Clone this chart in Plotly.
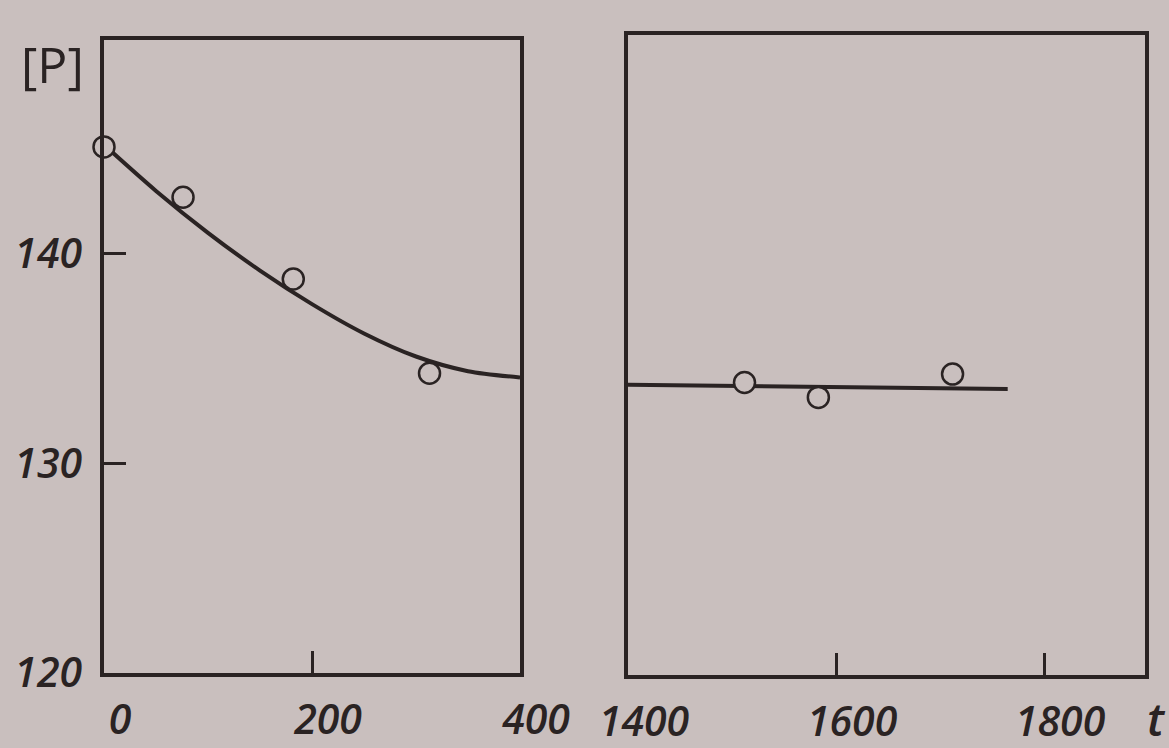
import plotly.graph_objects as go

# Measured points and fitted curve, early stage (t = 0..400)
early_t = [0, 76, 182, 313]
early_p = [145.1, 142.7, 138.8, 134.3]
early_fit_t = [0, 50, 100, 150, 200, 250, 300, 350, 400]
early_fit_p = [145.2, 143.0, 141.0, 139.2, 137.6, 136.2, 135.1, 134.4, 134.1]

# Measured points and fitted line, late stage (t = 1400..1900)
late_t = [1512, 1583, 1712]
late_p = [133.8, 133.1, 134.2]
late_fit_t = [1400, 1765]
late_fit_p = [133.7, 133.5]

# Axis ticks
y_ticks = [120, 130, 140]
x1_ticks = [0, 200, 400]
x2_ticks = [1400, 1600, 1800]

PAPER = "#c9bfbe"
INK = "#2a2323"
FONT = "Open Sans, sans-serif"

fig = go.Figure()

fig.add_trace(go.Scatter(x=early_fit_t, y=early_fit_p, mode="lines",
                         line=dict(color=INK, width=4, shape="spline", smoothing=0.8),
                         xaxis="x", yaxis="y", showlegend=False))
fig.add_trace(go.Scatter(x=early_t, y=early_p, mode="markers",
                         marker=dict(symbol="circle", size=21, color=PAPER,
                                     line=dict(color=INK, width=2.5)),
                         xaxis="x", yaxis="y", showlegend=False, cliponaxis=False))
fig.add_trace(go.Scatter(x=late_fit_t, y=late_fit_p, mode="lines",
                         line=dict(color=INK, width=4),
                         xaxis="x2", yaxis="y2", showlegend=False))
fig.add_trace(go.Scatter(x=late_t, y=late_p, mode="markers",
                         marker=dict(symbol="circle", size=21, color=PAPER,
                                     line=dict(color=INK, width=2.5)),
                         xaxis="x2", yaxis="y2", showlegend=False, cliponaxis=False))

W, H = 1169, 748
tickfont = dict(family=FONT, size=41, color=INK, style="italic", weight=600)

common_x = dict(showgrid=False, zeroline=False, showline=True, mirror=True,
                linecolor=INK, linewidth=3.5, ticks="inside", ticklen=22,
                tickwidth=3, tickcolor=INK, tickfont=tickfont,
                ticklabelshift=16, ticklabelstandoff=8, automargin=False)
common_y = dict(showgrid=False, zeroline=False, showline=True, mirror=True,
                linecolor=INK, linewidth=3.5, range=[120, 150.2],
                automargin=False)

fig.update_layout(
    width=W, height=H,
    margin=dict(l=0, r=0, t=0, b=0),
    paper_bgcolor=PAPER, plot_bgcolor=PAPER,
    xaxis=dict(common_x, domain=[104 / W, 520 / W], range=[0, 400],
               tickvals=x1_ticks, ticktext=[str(v) for v in x1_ticks]),
    yaxis=dict(common_y, domain=[1 - 673 / H, 1 - 40 / H], anchor="x",
               tickvals=y_ticks, ticktext=[str(v) for v in y_ticks],
               ticks="inside", ticklen=22, tickwidth=3, tickcolor=INK,
               tickfont=tickfont, ticklabelstandoff=10),
    xaxis2=dict(common_x, domain=[628 / W, 1145 / W], range=[1400, 1897],
                anchor="y2",
                tickvals=x2_ticks, ticktext=[str(v) for v in x2_ticks]),
    yaxis2=dict(common_y, domain=[1 - 675 / H, 1 - 35 / H], anchor="x2",
                showticklabels=False, ticks=""),
    annotations=[
        dict(text="[P]", xref="paper", yref="paper", x=52 / W, y=1 - 64 / H,
             xanchor="center", yanchor="middle", showarrow=False,
             font=dict(family=FONT, size=50, color=INK)),
        dict(text="t", xref="paper", yref="paper", x=1156 / W, y=1 - 718 / H,
             xanchor="center", yanchor="middle", showarrow=False,
             font=dict(family=FONT, size=46, color=INK, style="italic", weight=600)),
    ],
)

fig.write_html("out.html")
